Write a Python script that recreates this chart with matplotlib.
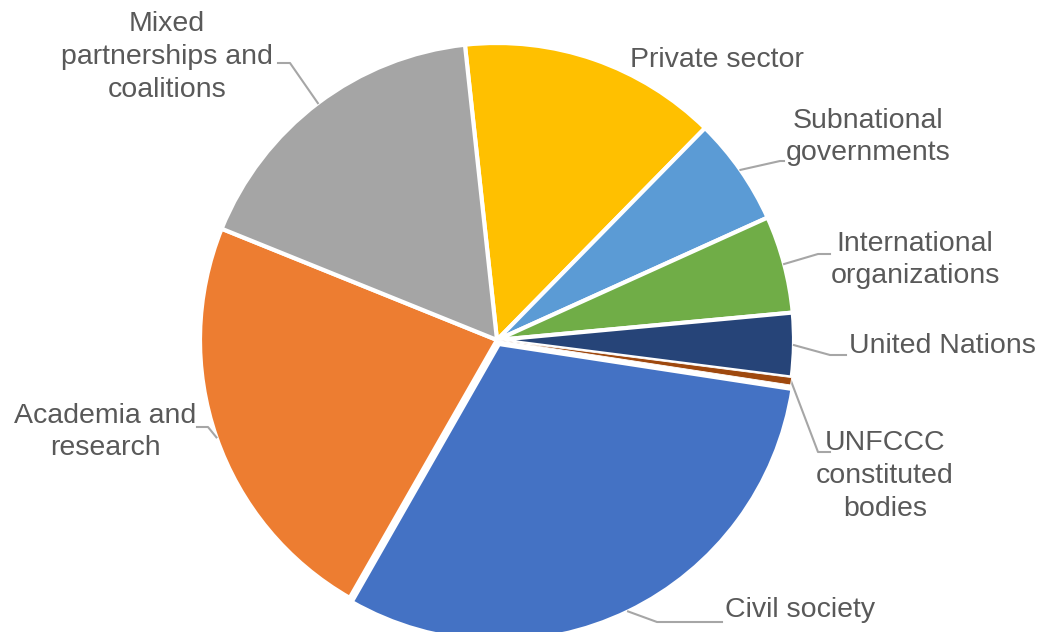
import numpy as np
import matplotlib.pyplot as plt

labels = ["Private sector", "Subnational\ngovernments", "International\norganizations",
          "United Nations", "UNFCCC\nconstituted\nbodies", "Civil society",
          "Academia and\nresearch", "Mixed\npartnerships and\ncoalitions"]
shares = [14.1, 5.9, 5.3, 3.5, 0.4, 30.9, 22.9, 17.2]
colors = ["#FFC000", "#5B9BD5", "#70AD47", "#264478", "#9E480E", "#4472C4", "#ED7D31", "#A5A5A5"]
explode = [0, 0, 0, 0, 0, 0.015, 0, 0]

# label layout in pixels: text centre, elbow of the leader (None = no leader)
text_px = [(717, 60), (868, 137), (915, 260), (942, 346), (885, 476),
           (800, 610), (105, 432), (167, 57)]
elbow_px = [None, [(780, 161), (784, 161)], [(818, 254), (830, 254)],
            [(830, 355), (846, 355)], [(818, 452), (830, 452)],
            [(657, 622), (722, 622)], [(208, 427), (197, 427)],
            [(290, 63), (278, 63)]]

W, H = 1041, 632
cx, cy, R = 497, 340, 297
fig = plt.figure(figsize=(W / 100, H / 100), dpi=100)
ax = fig.add_axes([(cx - R) / W, (H - cy - R) / H, 2 * R / W, 2 * R / H])


def px(p):
    return ((p[0] - cx) / R, (cy - p[1]) / R)


wedges, _ = ax.pie(shares, colors=colors, explode=explode, startangle=96.2,
                   counterclock=False, radius=1.0,
                   wedgeprops=dict(edgecolor="white", linewidth=3))
# the tiny slice would vanish under the white borders
wedges[4].set_linewidth(0.6)
wedges[4].set_zorder(5)

ax.set_xlim(-1, 1)
ax.set_ylim(-1, 1)
ax.set_aspect("equal")
ax.axis("off")

for w, lab, tp, el, ex in zip(wedges, labels, text_px, elbow_px, explode):
    ang = np.deg2rad((w.theta1 + w.theta2) / 2)
    if el is not None:
        sx = (1 + ex) * np.cos(ang)
        sy = (1 + ex) * np.sin(ang)
        pts = [(sx, sy)] + [px(p) for p in el]
        xs, ys = zip(*pts)
        ax.plot(xs, ys, color="#A6A6A6", lw=1.5, clip_on=False, zorder=1)
    x, y = px(tp)
    ax.text(x, y, lab, ha="center", va="center", fontsize=20.5, color="#595959",
            family="Liberation Sans", linespacing=1.33, clip_on=False)

fig.savefig("out.png", dpi=100)
